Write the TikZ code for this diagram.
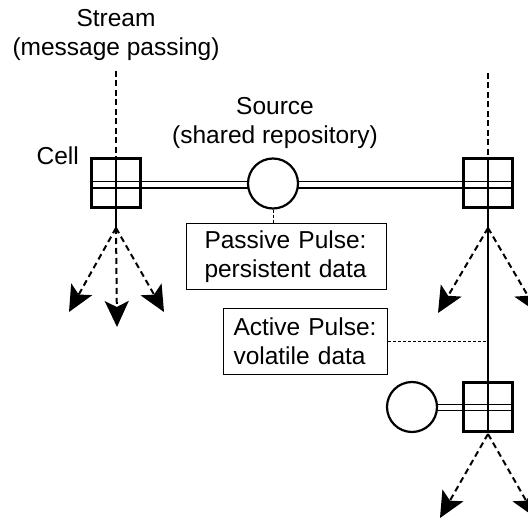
\documentclass[tikz,border=0pt]{standalone}
\usepackage{fontspec}
\setmainfont{Liberation Sans}
\usetikzlibrary{arrows.meta,backgrounds}
\begin{document}
\begin{tikzpicture}[x=1pt,y=-1pt,
  every node/.style={font=\fontsize{24.5}{29}\selectfont},
  cellbox/.style={draw, line width=3pt, minimum size=49pt, inner sep=0pt},
  srcnode/.style={circle, draw, line width=2.2pt, fill=white, minimum size=50pt, inner sep=0pt},
  pulsebox/.style={draw, line width=1pt, align=left, minimum height=66pt, inner xsep=0pt, inner ysep=0pt},
  textlabel/.style={inner sep=0pt, align=center},
  pipe/.style={double, double distance=5pt, line width=1.3pt},
  streamline/.style={line width=2pt, dash pattern=on 6pt off 3.5pt},
  wire/.style={line width=2pt},
  flow/.style={line width=2pt, dash pattern=on 6pt off 4pt, -{Stealth[length=26pt,width=24pt,inset=6pt]}},
  tie/.style={line width=1pt, dash pattern=on 3pt off 2pt}
]
\useasboundingbox (0,0) rectangle (528,521);
\clip (0,0) rectangle (528,521);

% nodes
\node[cellbox] (lcell) at (116,183) {};
\node[cellbox] (rcell) at (488,183.5) {};
\node[cellbox] (bcell) at (488,407) {};
\node[srcnode] (src) at (273,183.5) {};
\node[srcnode] (bsrc) at (412,407) {};
\node[pulsebox, text width=164pt, minimum width=200pt, anchor=north west] (passive) at (186,223) {Passive Pulse:\\persistent data};
\node[pulsebox, text width=144pt, minimum width=164pt, anchor=north west] (active) at (223,308) {Active Pulse:\\volatile data};

\node[textlabel, anchor=north] (streamlbl) at (116,9.5) {Stream\\(message passing)};
\node[textlabel, anchor=north] (srclbl) at (275,97) {Source\\(shared repository)};
\node[textlabel, anchor=base east] (celllbl) at (79,165) {Cell};

% coordinates
\coordinate (ltop) at (116,71);
\coordinate (rtop) at (488,73);
\coordinate (lsplit) at (116,228);
\coordinate (rsplit) at (488,228);
\coordinate (bsplit) at (488,434);
\coordinate (la) at (69,312);
\coordinate (lb) at (117,327);
\coordinate (lc) at (164,312);
\coordinate (ra) at (438,313);
\coordinate (rb) at (538,313);
\coordinate (ba) at (440,518);
\coordinate (bb) at (536,518);

\begin{scope}[on background layer]
  \draw[pipe] ([yshift=-2pt]lcell.west) -- ([yshift=-2pt]lcell.west -| rcell.east);
  \draw[pipe] ([yshift=-0.5pt]bsrc.center) -- ([yshift=-0.5pt]bcell.east);
  \draw[wire] (lcell.north) -- (lsplit);
  \draw[wire] (rcell.north) -- (bcell.south);
\end{scope}

\draw[streamline] (ltop) -- (lcell.north);
\draw[streamline] (rtop) -- (rcell.north);

\draw[flow] (lsplit) -- (la);
\draw[flow] (lsplit) -- (lb);
\draw[flow] (lsplit) -- (lc);
\draw[flow] (rsplit) -- (ra);
\draw[flow] (rsplit) -- (rb);
\draw[flow] (bsplit) -- (ba);
\draw[flow] (bsplit) -- (bb);

\draw[tie] (src.south) -- (src.south |- passive.north);
\draw[tie] (active.east) -- (active.east -| rcell.south);
\end{tikzpicture}
\end{document}
